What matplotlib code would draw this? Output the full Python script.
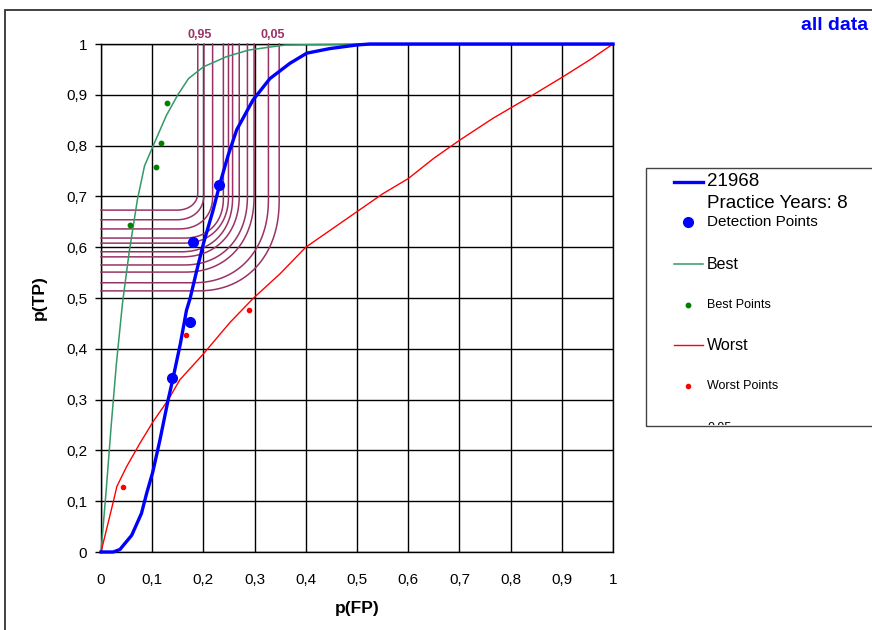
import numpy as np
import matplotlib
matplotlib.use("Agg")
import matplotlib.pyplot as plt
from matplotlib.lines import Line2D
from matplotlib.patches import Rectangle
from matplotlib.transforms import Bbox, TransformedBbox

plt.rcParams['font.family'] = ['Liberation Sans', 'DejaVu Sans']

# ---------------- data ----------------
blue_x = [0, 0.024, 0.037, 0.060, 0.079, 0.089, 0.101, 0.115, 0.131, 0.140, 0.155, 0.167,
          0.174, 0.186, 0.200, 0.219, 0.232, 0.248, 0.265, 0.297, 0.330, 0.369, 0.402,
          0.447, 0.499, 0.525, 1.0]
blue_y = [0, 0, 0.005, 0.033, 0.076, 0.115, 0.157, 0.220, 0.299, 0.339, 0.41, 0.476,
          0.499, 0.55, 0.607, 0.673, 0.724, 0.78, 0.831, 0.890, 0.932, 0.962, 0.982,
          0.991, 0.998, 1.0, 1.0]
det_x = [0.139, 0.174, 0.180, 0.230]
det_y = [0.343, 0.453, 0.610, 0.722]

best_x = [0, 0.01, 0.02, 0.03, 0.042, 0.055, 0.071, 0.085, 0.102, 0.128, 0.15, 0.171,
          0.2, 0.245, 0.288, 0.33, 0.36, 0.5, 1.0]
best_y = [0, 0.12, 0.25, 0.37, 0.49, 0.59, 0.693, 0.76, 0.80, 0.86, 0.90, 0.932,
          0.955, 0.975, 0.988, 0.994, 0.998, 1.0, 1.0]
best_pts_x = [0.057, 0.107, 0.118, 0.128]
best_pts_y = [0.644, 0.757, 0.806, 0.883]

worst_x = [0, 0.024, 0.031, 0.050, 0.076, 0.102, 0.131, 0.154, 0.2, 0.252, 0.297, 0.35,
           0.4, 0.45, 0.5, 0.55, 0.6, 0.65, 0.701, 0.766, 0.805, 0.844, 0.903, 0.955, 1.0]
worst_y = [0, 0.099, 0.129, 0.168, 0.214, 0.257, 0.299, 0.339, 0.39, 0.452, 0.499, 0.548,
           0.6, 0.635, 0.67, 0.705, 0.735, 0.775, 0.811, 0.854, 0.877, 0.90, 0.936, 0.969, 1.0]
worst_pts_x = [0.043, 0.166, 0.289]
worst_pts_y = [0.128, 0.427, 0.476]

# iso-contours: vertical position, horizontal position, corner radii
cont_x = [0.189, 0.201, 0.218, 0.239, 0.249, 0.257, 0.270, 0.286, 0.299, 0.327, 0.348]
cont_y = [0.673, 0.654, 0.636, 0.618, 0.608, 0.591, 0.581, 0.565, 0.551, 0.530, 0.514]
cont_rx = [0.042, 0.054, 0.066, 0.077, 0.089, 0.101, 0.113, 0.125, 0.136, 0.148, 0.160]
cont_ry = [0.035, 0.050, 0.064, 0.079, 0.093, 0.108, 0.122, 0.137, 0.151, 0.166, 0.180]
cont_labels = ["0,95", "0,05"]

ticks = [0, 0.1, 0.2, 0.3, 0.4, 0.5, 0.6, 0.7, 0.8, 0.9, 1.0]
tick_labels = ["0", "0,1", "0,2", "0,3", "0,4", "0,5", "0,6", "0,7", "0,8", "0,9", "1"]

# ---------------- figure ----------------
W, H = 872, 630
fig = plt.figure(figsize=(W / 100, H / 100), dpi=100)

def fx(px):
    return px / W

def fy(py):
    return 1 - py / H

ax = fig.add_axes([fx(101), fy(552), (613 - 101) / W, (552 - 44) / H])
ax.set_xlim(0, 1)
ax.set_ylim(0, 1)
ax.set_xticks(ticks)
ax.set_yticks(ticks)
ax.set_xticklabels(tick_labels, fontsize=11)
ax.set_yticklabels(tick_labels, fontsize=11)
ax.tick_params(axis='x', length=0, pad=15)
ax.tick_params(axis='y', length=4, width=1, pad=6, direction='out')
ax.grid(True, color='black', linewidth=1)
ax.set_axisbelow(True)
for s in ax.spines.values():
    s.set_color('black')
    s.set_linewidth(1)

ax.set_xlabel("p(FP)", fontsize=12.5, fontweight='bold', labelpad=10)
ax.set_ylabel("p(TP)", fontsize=12.5, fontweight='bold', labelpad=14)

plum = '#993366'
# contours
t = np.linspace(-np.pi / 2, 0, 60)
for xv, yh, rx, ry in zip(cont_x, cont_y, cont_rx, cont_ry):
    cx, cy = xv - rx, yh + ry
    n = 2.2
    ax_ = cx + rx * np.sign(np.cos(t)) * np.abs(np.cos(t)) ** (2 / n)
    ay_ = cy + ry * np.sign(np.sin(t)) * np.abs(np.sin(t)) ** (2 / n)
    xs = np.concatenate([[0], ax_, [xv]])
    ys = np.concatenate([[yh], ay_, [1.0]])
    ax.plot(xs, ys, color=plum, lw=1.1, zorder=3, clip_on=False)

ax.text(cont_x[0] + 0.004, 1.018, cont_labels[0], color=plum, fontsize=9,
        fontweight='bold', ha='center', va='center')
ax.text(cont_x[-1] - 0.012, 1.018, cont_labels[1], color=plum, fontsize=9,
        fontweight='bold', ha='center', va='center')

ax.plot(best_x, best_y, color='#339966', lw=1.1, zorder=4, clip_on=False)
ax.plot(worst_x, worst_y, color='#ff0000', lw=1.0, zorder=4, clip_on=False)
ax.plot(blue_x, blue_y, color='#0000ff', lw=2.4, zorder=5, clip_on=False)
ax.plot(det_x, det_y, 'o', color='#0000ff', ms=7, zorder=6, clip_on=False)
ax.plot(best_pts_x, best_pts_y, 'o', color='#008000', ms=3.2, zorder=6)
ax.plot(worst_pts_x, worst_pts_y, 'o', color='#ff0000', ms=3.0, zorder=6)

# outer chart frame
fig.patches.append(Rectangle((fx(5), -0.1), 1.2, fy(10) + 0.1, transform=fig.transFigure,
                             fill=False, edgecolor='#333333', lw=1.3, clip_on=False))

# title
fig.text(fx(868), fy(25), "all data", color='#0000ff', fontsize=14, fontweight='bold',
         ha='right', va='center')

# legend box (manual)
fig.patches.append(Rectangle((fx(646), fy(426)), 1.0, fy(168) - fy(426),
                             transform=fig.transFigure, fill=False,
                             edgecolor='#444444', lw=1.0, clip_on=False))
lx0, lx1, tx = 674, 703, 707

def leg_line(py, color, lw):
    fig.lines.append(Line2D([fx(lx0), fx(lx1)], [fy(py), fy(py)], color=color, lw=lw,
                            transform=fig.transFigure))

def leg_dot(py, color, ms):
    fig.lines.append(Line2D([fx(688)], [fy(py)], marker='o', color=color, ms=ms,
                            linestyle='none', transform=fig.transFigure))

def leg_text(py, s, size):
    return fig.text(fx(tx), fy(py), s, fontsize=size, ha='left', va='center', color='black')

leg_line(182, '#0000ff', 2.4)
leg_text(182, "21968", 13.5)
leg_text(204, "Practice Years: 8", 13.5)
leg_dot(222, '#0000ff', 7)
leg_text(222, "Detection Points", 11)
leg_line(264, '#339966', 1.1)
leg_text(264, "Best", 11.5)
leg_dot(305, '#008000', 3.2)
leg_text(305, "Best Points", 9)
leg_line(345, '#ff0000', 1.0)
leg_text(345, "Worst", 11.5)
leg_dot(386, '#ff0000', 3.0)
leg_text(386, "Worst Points", 9)
cut = leg_text(428, "0,95", 9)
clipbox = TransformedBbox(Bbox([[fx(646), fy(425)], [1.0, fy(168)]]), fig.transFigure)
cut.set_clip_box(clipbox)
cut.set_clip_on(True)

fig.savefig("out.png", dpi=100)
